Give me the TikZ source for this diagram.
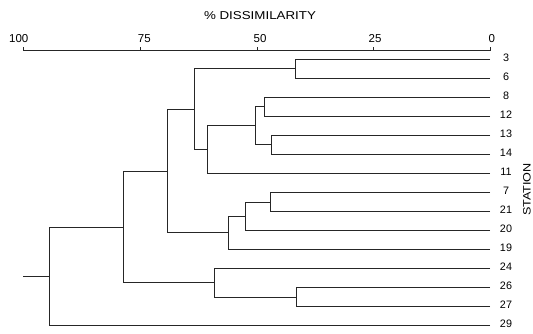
\documentclass[tikz,border=0pt]{standalone}
\usepackage{fontspec}
\setmainfont{Liberation Sans}
\begin{document}
\begin{tikzpicture}[x=1pt,y=-1pt,
  dend/.style={line width=1pt, draw=black!85, line join=miter},
  axisline/.style={line width=0.9pt, draw=black!85},
  leaflab/.style={font=\fontsize{10.8}{12}\selectfont, inner sep=0pt, anchor=center, text=black},
  axislab/.style={font=\fontsize{11.5}{13}\selectfont, inner sep=0pt, anchor=center, text=black},
  titlelab/.style={font=\fontsize{11.4}{13}\selectfont, inner sep=0pt, anchor=center, text=black}]
\useasboundingbox (0,0) rectangle (533,333);

% axis
\coordinate (ax100) at (23.3,50.5);
\coordinate (ax75) at (140.15,50.5);
\coordinate (ax50) at (257,50.5);
\coordinate (ax25) at (373.85,50.5);
\coordinate (ax0) at (490.7,50.5);
\draw[axisline] (ax100) -- (ax0);
\foreach \a in {ax100,ax75,ax50,ax25,ax0}{
  \draw[axisline] (\a) -- ++(0,-4);
}
\node[axislab] (lab100) at (18.8,39) {100};
\node[axislab] (lab75) at (144.3,39) {75};
\node[axislab] (lab50) at (260,39) {50};
\node[axislab] (lab25) at (375,39) {25};
\node[axislab] (lab0) at (491.7,39) {0};
\node[titlelab] (title) at (260,16) {\scalebox{1.17}[1]{\% DISSIMILARITY}};
\node[titlelab, rotate=90, font=\fontsize{10.7}{12}\selectfont] (station) at (527,189.5) {\scalebox{1.18}[1]{STATION}};

% leaves
\foreach \n/\y in {3/59.30,6/78.33,8/97.36,12/116.39,13/135.42,14/154.45,11/173.48,7/192.51,21/211.54,20/230.57,19/249.60,24/268.63,26/287.66,27/306.69,29/325.72}{
  \coordinate (l\n) at (490,\y);
  \node[leaflab] (t\n) at (506,\y-1.8) {\n};
}

% internal nodes
\coordinate (n36) at (295,68.82);
\coordinate (n812) at (264.3,106.88);
\coordinate (n1314) at (271.7,144.94);
\coordinate (nA1) at (255.7,125.91);
\coordinate (nA2) at (207.3,149.69);
\coordinate (nA) at (194.7,109.26);
\coordinate (n721) at (270.7,202.03);
\coordinate (nB1) at (245,216.30);
\coordinate (nB) at (228.7,232.95);
\coordinate (nAB) at (167.7,171.10);
\coordinate (n2627) at (296,297.18);
\coordinate (nC) at (214,282.90);
\coordinate (nABC) at (123.7,227.0);
\coordinate (root) at (49,276.36);
\coordinate (rootstart) at (23.3,276.36);

\draw[dend] (l3) -| (n36);
\draw[dend] (l6) -| (n36);
\draw[dend] (l8) -| (n812);
\draw[dend] (l12) -| (n812);
\draw[dend] (l13) -| (n1314);
\draw[dend] (l14) -| (n1314);
\draw[dend] (n812) -| (nA1);
\draw[dend] (n1314) -| (nA1);
\draw[dend] (nA1) -| (nA2);
\draw[dend] (l11) -| (nA2);
\draw[dend] (n36) -| (nA);
\draw[dend] (nA2) -| (nA);
\draw[dend] (l7) -| (n721);
\draw[dend] (l21) -| (n721);
\draw[dend] (n721) -| (nB1);
\draw[dend] (l20) -| (nB1);
\draw[dend] (nB1) -| (nB);
\draw[dend] (l19) -| (nB);
\draw[dend] (nA) -| (nAB);
\draw[dend] (nB) -| (nAB);
\draw[dend] (l26) -| (n2627);
\draw[dend] (l27) -| (n2627);
\draw[dend] (l24) -| (nC);
\draw[dend] (n2627) -| (nC);
\draw[dend] (nAB) -| (nABC);
\draw[dend] (nC) -| (nABC);
\draw[dend] (nABC) -| (root);
\draw[dend] (l29) -| (root);
\draw[dend] (rootstart) -- (root);
\end{tikzpicture}
\end{document}
